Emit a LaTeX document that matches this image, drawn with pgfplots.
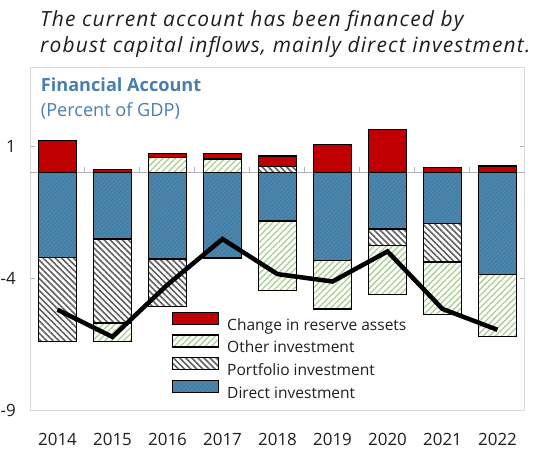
\documentclass[border=0pt]{standalone}
\usepackage{fontspec}
\setmainfont{Open Sans}
\newfontfamily\titlefont[LetterSpace=5.6]{Open Sans}
\usepackage{pgfplots}
\usepackage{pgfplotstable}
\pgfplotsset{compat=1.18}
\usetikzlibrary{patterns.meta}

\definecolor{redC}{HTML}{C00000}
\definecolor{blueC}{HTML}{4A86AD}
\definecolor{greenC}{HTML}{A9D18E}
\definecolor{greyH}{HTML}{606060}
\definecolor{frameC}{HTML}{D9D9D9}
\definecolor{zeroC}{HTML}{B4B4B4}
\definecolor{titleC}{HTML}{4A7EAE}
\definecolor{txtC}{HTML}{1E1E1E}

\tikzset{
  dirS/.style={draw=black, line width=1.2bp, fill=blueC,
    postaction={pattern={Lines[angle=45,distance=3bp,line width=0.5bp]}, pattern color=blueC!88!black}},
  portS/.style={draw=black, line width=1.2bp, fill=white,
    postaction={pattern={Lines[angle=-45,distance=4.3bp,line width=1.6bp]}, pattern color=greyH}},
  othS/.style={draw=black, line width=1.2bp, fill=white,
    postaction={pattern={Lines[angle=45,distance=4.4bp,line width=1.3bp]}, pattern color=greenC}},
  resS/.style={draw=black, line width=1.2bp, fill=redC},
}

% negative parts (stacked downward from 0): direct, portfolio, other
\pgfplotstableread{
x dir port oth
0 -3.22 -3.18 0
1 -2.52 -3.18 -0.70
2 -3.28 -1.79 0
3 -3.24 0 0
4 -1.84 0 -2.64
5 -3.33 0 -1.84
6 -2.14 -0.64 -1.83
7 -1.92 -1.47 -2.00
8 -3.87 0 -2.34
}\negtab

% positive parts (stacked upward from 0): other, portfolio, reserve assets
\pgfplotstableread{
x oth port res
0 0 0 1.21
1 0 0 0.13
2 0.58 0 0.13
3 0.51 0 0.20
4 0 0.23 0.40
5 0 0 1.05
6 0 0 1.62
7 0 0 0.20
8 0 0 0.25
}\postab

% black line
\pgfplotstableread{
x val
0 -5.20
1 -6.23
2 -4.25
3 -2.52
4 -3.85
5 -4.13
6 -2.99
7 -5.17
8 -5.96
}\linetab

\pgfplotsset{
  base/.style={width=495bp, height=343bp, scale only axis,
    xmin=-0.5, xmax=8.5, ymin=-9, ymax=4},
}

\newcommand\lstrut{\rule[-3.2bp]{0pt}{16.8bp}}

\begin{document}
\begin{tikzpicture}
% axis 1: frame, ticks, negative stacks
\begin{axis}[base, ybar stacked, bar width=0.69,
  axis line style={draw=frameC, line width=1bp},
  xtick={0,...,8},
  xticklabels={2014,2015,2016,2017,2018,2019,2020,2021,2022},
  x tick style={draw=none},
  xticklabel style={anchor=base, yshift=-35bp, text=txtC, font=\fontsize{17}{20}\selectfont},
  ytick={-9,-4,1},
  yticklabels={-9,-4,1},
  y tick style={draw=zeroC, line width=1bp},
  major tick length=5bp, tick align=inside,
  yticklabel style={anchor=east, inner sep=0pt, xshift=-14bp, text=txtC, font=\fontsize{17}{20}\selectfont},
  extra y ticks={0}, extra y tick labels={},
  extra y tick style={grid=major, major grid style={draw=zeroC, line width=1bp}, tick style={draw=none}},
]
\addplot[dirS] table[x=x, y=dir]{\negtab};
\addplot[portS] table[x=x, y=port]{\negtab};
\addplot[othS] table[x=x, y=oth]{\negtab};
\pgfplotsinvokeforeach{0.5,1.5,2.5,3.5,4.5,5.5,6.5,7.5}{
  \draw[zeroC, line width=1bp] (axis cs:#1,0) -- ++(0pt,6bp);
}
\end{axis}
% axis 2: positive stacks
\begin{axis}[base, hide axis, ybar stacked, bar width=0.69]
\addplot[othS] table[x=x, y=oth]{\postab};
\addplot[portS] table[x=x, y=port]{\postab};
\addplot[resS] table[x=x, y=res]{\postab};
\end{axis}
% axis 3: line and legend
\begin{axis}[base, hide axis,
  legend image code/.code={\draw[#1] (0,0) rectangle (46bp,12bp);},
  legend cell align=left,
  legend style={at={(axis description cs:0.2869,0.2866)}, anchor=north west,
    draw=none, fill=none, inner sep=0pt, outer sep=0pt,
    row sep=0.5bp, column sep=6bp,
    nodes={inner sep=2bp, text=txtC},
    font=\fontsize{15.6}{18}\selectfont},
]
\addlegendimage{resS}
\addlegendentry{\lstrut\smash{Change in reserve assets}}
\addlegendimage{othS}
\addlegendentry{\lstrut\smash{Other investment}}
\addlegendimage{portS}
\addlegendentry{\lstrut\smash{Portfolio investment}}
\addlegendimage{dirS}
\addlegendentry{\lstrut\smash{Direct investment}}
\addplot[black, line width=4.5bp, forget plot] table[x=x, y=val]{\linetab};
\end{axis}
% titles
\node[anchor=base west, inner sep=0pt, text=txtC, font=\fontsize{21}{25}\titlefont\itshape] at (10bp,383bp) {The current account has been financed by};
\node[anchor=base west, inner sep=0pt, text=txtC, font=\fontsize{21}{25}\titlefont\itshape] at (10bp,357.5bp) {robust capital inflows, mainly direct investment.};
\node[anchor=base west, inner sep=0pt, text=titleC, font=\fontsize{18.2}{22}\selectfont\bfseries] at (10.7bp,318bp) {Financial Account};
\node[anchor=base west, inner sep=0pt, text=titleC, font=\fontsize{18.2}{22}\selectfont] at (10.7bp,293.3bp) {(Percent of GDP)};
\pgfresetboundingbox
\path[use as bounding box] (-30bp,-42bp) rectangle (512bp,410bp);
\end{tikzpicture}
\end{document}
